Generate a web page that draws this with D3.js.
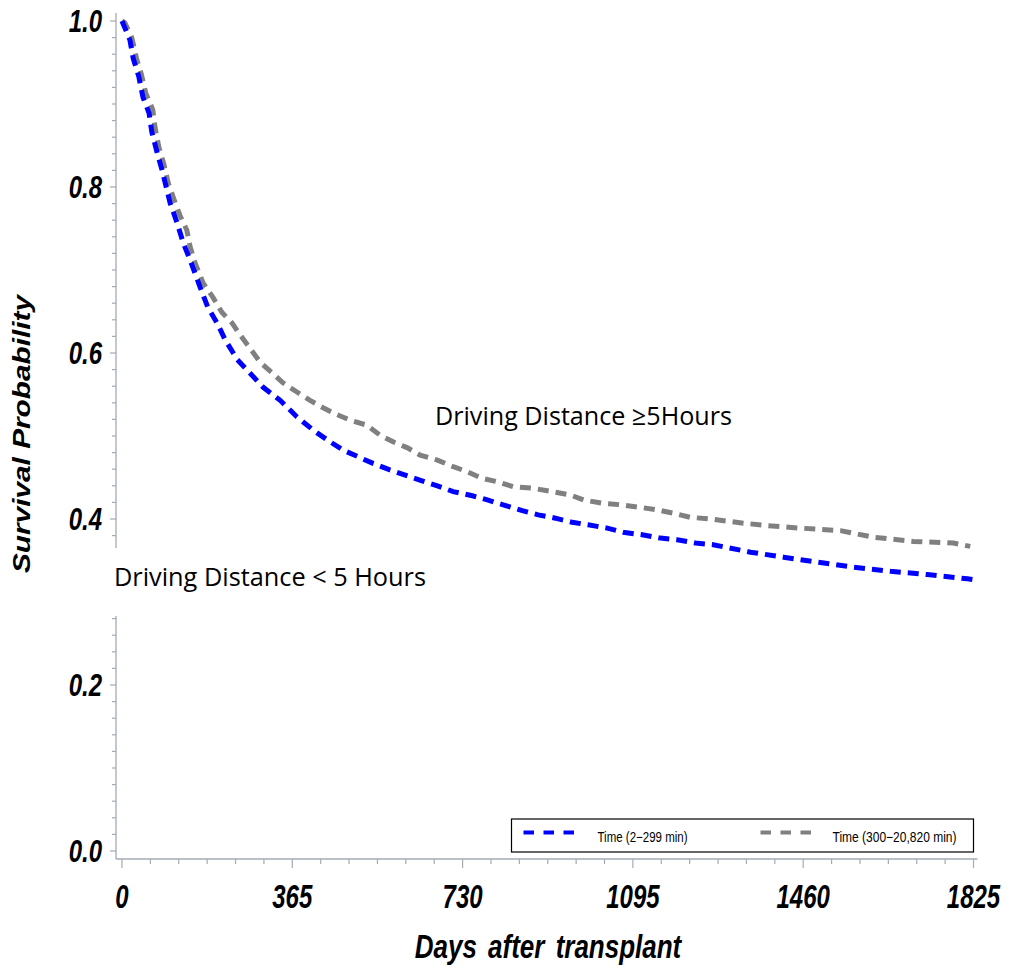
<!DOCTYPE html>
<html><head><meta charset="utf-8">
<script src="https://cdn.jsdelivr.net/npm/d3@7"></script>
<style>html,body{margin:0;padding:0;background:#fff;}svg{display:block;}</style>
</head><body><svg id="c" width="1009" height="974"></svg>
<script>
// ---- data (days after transplant, survival probability) ----
const blueDays = [0,17,24,36,45,58,64,75,86,103,118,131,146,167,184,204,221,247,274,302,339,375,410,446,474,506,538,570,607,643,676,710,751,783,817,858,892,929,965,999,1040,1074,1115,1154,1190,1229,1267,1347,1418,1490,1568,1647,1726,1812,1825];
const blueSurv = [1.000,0.977,0.955,0.933,0.908,0.889,0.866,0.842,0.820,0.781,0.757,0.733,0.712,0.680,0.655,0.636,0.616,0.592,0.576,0.559,0.543,0.523,0.507,0.493,0.483,0.475,0.467,0.460,0.453,0.446,0.440,0.433,0.428,0.423,0.417,0.410,0.405,0.401,0.396,0.393,0.389,0.384,0.381,0.377,0.375,0.371,0.369,0.360,0.354,0.348,0.342,0.337,0.333,0.328,0.327];
const grayDays = [0,6,21,32,41,51,66,71,79,90,99,114,124,139,146,157,174,195,214,236,253,274,296,322,345,375,403,431,452,489,525,553,581,611,639,676,710,740,772,804,838,881,922,961,989,1029,1072,1111,1147,1182,1218,1261,1332,1383,1454,1540,1611,1696,1782,1818];
const graySurv = [1.000,0.998,0.980,0.953,0.937,0.913,0.893,0.871,0.848,0.827,0.805,0.781,0.766,0.748,0.728,0.708,0.684,0.667,0.649,0.636,0.622,0.606,0.589,0.576,0.564,0.553,0.543,0.534,0.528,0.519,0.513,0.501,0.493,0.486,0.477,0.471,0.463,0.457,0.449,0.445,0.439,0.437,0.433,0.429,0.423,0.419,0.417,0.414,0.411,0.407,0.402,0.400,0.395,0.392,0.389,0.386,0.378,0.373,0.371,0.367];
const xMajorTicks = [0,365,730,1095,1460,1825];
const yMajorTicks = [0.0,0.2,0.4,0.6,0.8,1.0];
const seriesNames = ["Time (2\u2212299 min)","Time (300\u221220,820 min)"];
const seriesColors = ["#0000ff","#808080"];
const xTitle = "Days after transplant";
const yTitle = "Survival  Probability";
const annotHigh = "Driving Distance \u22655Hours";
const annotLow = "Driving Distance < 5 Hours";

const svg = d3.select("#c");
const x = d3.scaleLinear().domain([0,1825]).range([122,973.5]);
const y = d3.scaleLinear().domain([0,1]).range([851,21]);
const axisColor = "#a3abb5";
const tickFont = "'Liberation Sans', Arial, sans-serif";

// minor tick values
const xMinor = d3.range(0,31).map(i=>i*365/6);
const yMinor = d3.range(0,51).map(i=>+(i*0.02).toFixed(2));

const axX = 116, axY = 859;
// y axis
const gy = svg.append("g").attr("transform",`translate(${axX},0)`);
gy.append("line").attr("x1",0).attr("x2",0).attr("y1",y(1)-8).attr("y2",axY).attr("stroke",axisColor).attr("stroke-width",1.3);
gy.selectAll("line.t").data(yMinor).join("line").attr("class","t")
  .attr("x1",d=>yMajorTicks.some(v=>Math.abs(v-d)<1e-6)?-6:-4).attr("x2",0)
  .attr("y1",d=>y(d)).attr("y2",d=>y(d)).attr("stroke",axisColor).attr("stroke-width",1.2);
gy.selectAll("g.lab").data(yMajorTicks).join("g").attr("class","lab")
  .attr("transform",d=>`translate(-14,${y(d)}) scale(1,1.28)`)
  .append("text").attr("text-anchor","end").attr("dy","0.36em")
  .attr("font-family",tickFont).attr("font-weight","bold").attr("font-style","italic")
  .attr("font-size",24).attr("fill","#000").text(d=>d.toFixed(1));

// x axis
const gx = svg.append("g").attr("transform",`translate(0,${axY})`);
gx.append("line").attr("x1",axX).attr("x2",x(1825)+4).attr("y1",0).attr("y2",0).attr("stroke",axisColor).attr("stroke-width",1.3);
gx.selectAll("line.t").data(xMinor).join("line").attr("class","t")
  .attr("x1",d=>x(d)).attr("x2",d=>x(d)).attr("y1",0)
  .attr("y2",d=>xMajorTicks.some(v=>Math.abs(v-d)<1e-6)?9:5).attr("stroke",axisColor).attr("stroke-width",1.2);
gx.selectAll("g.lab").data(xMajorTicks).join("g").attr("class","lab")
  .attr("transform",d=>`translate(${x(d)},49) scale(1,1.35)`)
  .append("text").attr("text-anchor","middle")
  .attr("font-family",tickFont).attr("font-weight","bold").attr("font-style","italic")
  .attr("font-size",24).attr("fill","#000").text(d=>d);

// titles
svg.append("g").attr("transform",`translate(548,958) scale(1,1.25)`)
  .append("text").attr("text-anchor","middle").attr("font-family",tickFont)
  .attr("font-weight","bold").attr("font-style","italic").attr("font-size",26)
  .attr("word-spacing",4).text(xTitle);
svg.append("g").attr("transform",`translate(30,434) rotate(-90)`)
  .append("text").attr("text-anchor","middle").attr("font-family",tickFont)
  .attr("font-weight","bold").attr("font-style","italic").attr("font-size",24)
  .attr("textLength",278).attr("lengthAdjust","spacingAndGlyphs").text(yTitle);

// curves
const line = d3.line().x(d=>x(d[0])).y(d=>y(d[1]));
const blue = blueDays.map((d,i)=>[d,blueSurv[i]]);
const gray = grayDays.map((d,i)=>[d,graySurv[i]]);
[[gray,1],[blue,0]].forEach(([data,k])=>{
  svg.append("path").datum(data).attr("d",line).attr("fill","none")
    .attr("stroke",seriesColors[k]).attr("stroke-width",5)
    .attr("stroke-dasharray","11,7");
});

// annotation with white background covering the axis
svg.append("rect").attr("x",106).attr("y",548).attr("width",328).attr("height",68).attr("fill","#fff");
svg.append("g").attr("transform","translate(114,586) scale(1,1.25)")
  .append("text").attr("font-family","'Open Sans','Noto Sans',sans-serif").attr("font-size",21)
  .attr("textLength",312).attr("lengthAdjust","spacingAndGlyphs").attr("fill","#000").text(annotLow);
svg.append("g").attr("transform","translate(435,425) scale(1,1.25)")
  .append("text").attr("font-family","'Open Sans','Noto Sans',sans-serif").attr("font-size",21)
  .attr("textLength",297).attr("lengthAdjust","spacingAndGlyphs").attr("fill","#000").text(annotHigh);

// legend
const lgR = x(1825), lgB = y(0)+1, lgW = 462, lgH = 33;
const lg = svg.append("g").attr("transform",`translate(${lgR-lgW},${lgB-lgH})`);
lg.append("rect").attr("width",lgW).attr("height",lgH).attr("fill","#fff").attr("stroke","#000").attr("stroke-width",1.2);
const legX = [[12,86,90],[249,321,124]];
seriesNames.forEach((nm,k)=>{
  lg.append("line").attr("x1",legX[k][0]).attr("x2",legX[k][0]+52).attr("y1",13.5).attr("y2",13.5)
    .attr("stroke",seriesColors[k]).attr("stroke-width",4).attr("stroke-dasharray","10.5,9.5");
  lg.append("g").attr("transform",`translate(${legX[k][1]},23) scale(1,1.2)`)
    .append("text").attr("font-family",tickFont).attr("font-size",12).attr("fill","#000")
    .attr("textLength",legX[k][2]).attr("lengthAdjust","spacingAndGlyphs").text(nm);
});
</script></body></html>
